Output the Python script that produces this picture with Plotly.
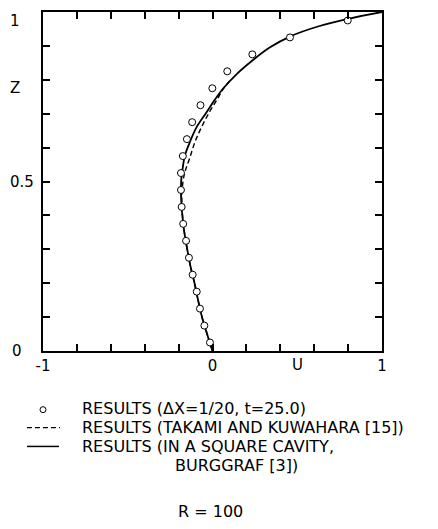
import plotly.graph_objects as go

# ---------------- data ----------------
# open circles: present results (dX = 1/20, t = 25.0)
z_pts = [0.025, 0.075, 0.125, 0.175, 0.225, 0.275, 0.325, 0.375, 0.425, 0.475,
         0.525, 0.575, 0.625, 0.675, 0.725, 0.775, 0.825, 0.875, 0.925, 0.975]
u_pts = [-0.015, -0.048, -0.074, -0.093, -0.117, -0.139, -0.156, -0.173, -0.182, -0.186,
         -0.186, -0.175, -0.151, -0.120, -0.071, -0.001, 0.087, 0.235, 0.457, 0.798]

# solid line: Burggraf, square cavity
z_burg = [0.0, 0.05, 0.10, 0.15, 0.20, 0.25, 0.30, 0.35, 0.40, 0.45, 0.50, 0.539,
          0.578, 0.617, 0.661, 0.705, 0.740, 0.775, 0.817, 0.859, 0.895, 0.929,
          0.958, 0.980, 1.0]
u_burg = [0.0, -0.032, -0.062, -0.085, -0.106, -0.130, -0.149, -0.166, -0.178, -0.185,
          -0.185, -0.176, -0.162, -0.133, -0.093, -0.034, 0.012, 0.064, 0.143, 0.241,
          0.337, 0.463, 0.627, 0.800, 1.0]

# dashed line: Takami and Kuwahara
z_tk = [0.0, 0.05, 0.10, 0.15, 0.20, 0.25, 0.30, 0.35, 0.40, 0.45, 0.50, 0.529,
        0.568, 0.617, 0.661, 0.705, 0.740, 0.775, 0.800]
u_tk = [0.0, -0.032, -0.062, -0.085, -0.106, -0.130, -0.149, -0.166, -0.177, -0.181,
        -0.174, -0.162, -0.135, -0.103, -0.064, -0.018, 0.025, 0.066, 0.108]

x_ticks = [-1.0, -0.8, -0.6, -0.4, -0.2, 0.0, 0.2, 0.4, 0.6, 0.8, 1.0]
x_tick_labels = ["-1", "", "", "", "", "0", "", "", "", "", "1"]
y_ticks = [0.0, 0.1, 0.2, 0.3, 0.4, 0.5, 0.6, 0.7, 0.8, 0.9, 1.0]
y_label_vals = [1.0, 0.5, 0.0]
y_label_text = ["1", "0.5", "0"]

legend_text = [
    "RESULTS (ΔX=1/20, t=25.0)",
    "RESULTS (TAKAMI AND KUWAHARA [15])",
    "RESULTS (IN A SQUARE CAVITY,",
    "BURGGRAF [3])",
]
caption = "R = 100"

FONT = "DejaVu Sans"

# ---------------- figure ----------------
fig = go.Figure()
fig.add_trace(go.Scatter(x=u_tk, y=z_tk, mode="lines", line_shape="spline",
                         line=dict(color="black", width=1.4, dash="5px,3px"),
                         showlegend=False, hoverinfo="skip"))
fig.add_trace(go.Scatter(x=u_burg, y=z_burg, mode="lines", line_shape="spline",
                         line=dict(color="black", width=1.8),
                         showlegend=False, hoverinfo="skip"))
fig.add_trace(go.Scatter(x=u_pts, y=z_pts, mode="markers",
                         marker=dict(symbol="circle", size=7, color="white",
                                     line=dict(color="black", width=1)),
                         showlegend=False))

OFF = 8  # default page body margin
W, H = 430, 521
L, R, T, B = 35, 56, 2, 178
pw, ph = W - L - R, H - T - B


def px(x_page):
    return (x_page - OFF - L) / pw


def py(y_page):
    return (H - B - (y_page - OFF)) / ph


fig.update_layout(
    width=W, height=H,
    margin=dict(l=L, r=R, t=T, b=B),
    paper_bgcolor="white", plot_bgcolor="white",
    font=dict(family=FONT, size=15, color="black"),
    xaxis=dict(range=[-1, 1], tickvals=x_ticks, ticktext=x_tick_labels,
               ticks="inside", ticklen=7, tickwidth=1.5, tickcolor="black",
               showline=True, linewidth=2, linecolor="black", mirror="ticks",
               showgrid=False, zeroline=False, ticklabelstandoff=0,
               tickfont=dict(family=FONT, size=15)),
    yaxis=dict(range=[0, 1], tickvals=y_ticks, showticklabels=False,
               ticks="inside", ticklen=7, tickwidth=1.5, tickcolor="black",
               showline=True, linewidth=2, linecolor="black", mirror="ticks",
               showgrid=False, zeroline=False),
)

ann = []
# y tick labels and axis names
y_shift = {"1": -28, "0.5": -21, "0": -26}
for v, t in zip(y_label_vals, y_label_text):
    top = (t == "1")
    ann.append(dict(x=0, xref="paper", y=v, yref="y", text=t, showarrow=False,
                    xanchor="center", yanchor="top" if top else "middle",
                    yshift=2 if top else 0, xshift=y_shift[t],
                    font=dict(family=FONT, size=15)))
ann.append(dict(x=0, xref="paper", y=0.776, yref="y", text="Z", showarrow=False,
                xanchor="center", yanchor="middle", xshift=-28,
                font=dict(family=FONT, size=15)))
ann.append(dict(x=0.5, xref="x", y=0, yref="paper", text="U", showarrow=False,
                xanchor="center", yanchor="middle", yshift=-14,
                font=dict(family=FONT, size=15)))

# legend text
rows_y = [409, 428, 447, 466]
rows_x = [80, 80, 80, 173]
for t, yy, xx in zip(legend_text, rows_y, rows_x):
    ann.append(dict(x=px(xx), xref="paper", y=py(yy), yref="paper", text=t,
                    showarrow=False, xanchor="left", yanchor="middle",
                    font=dict(family=FONT, size=16)))
ann.append(dict(x=px(210), xref="paper", y=py(512), yref="paper", text=caption,
                showarrow=False, xanchor="center", yanchor="middle",
                font=dict(family=FONT, size=16)))
fig.update_layout(annotations=ann)

# legend glyphs
shapes = [
    dict(type="circle", xref="paper", yref="paper", xsizemode="pixel", ysizemode="pixel",
         xanchor=px(43), yanchor=py(410), x0=-3, x1=3, y0=-3, y1=3,
         line=dict(color="black", width=1), fillcolor="white"),
    dict(type="line", xref="paper", yref="paper", x0=px(27), x1=px(60), y0=py(428), y1=py(428),
         line=dict(color="black", width=1.2, dash="5px,3px")),
    dict(type="line", xref="paper", yref="paper", x0=px(27), x1=px(59), y0=py(447), y1=py(447),
         line=dict(color="black", width=1.5)),
]
fig.update_layout(shapes=shapes)

fig.write_html("out.html")
